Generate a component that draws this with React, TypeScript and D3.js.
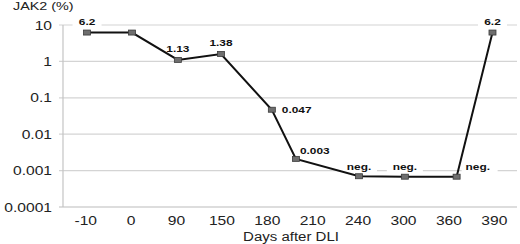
import React from "react";
import * as d3 from "d3";

const categories = ["-10", "0", "90", "150", "180", "210", "240", "300", "360", "390"];
// position of each measurement along the category axis (category index units)
const pointPos = [0.03, 1.02, 2.03, 2.98, 4.1, 4.63, 6.02, 7.03, 8.17, 8.96];
const values = [6.2, 6.2, 1.1, 1.6, 0.047, 0.0021, 0.0007, 0.00068, 0.00068, 6.2];
const pointLabels = ["6.2", "", "1.13", "1.38", "0.047", "0.003", "neg.", "neg.", "neg.", "6.2"];
const labelPlacement = ["top", "none", "top", "top", "right", "topright", "top", "top", "topright", "top"];
const yTicks = [10, 1, 0.1, 0.01, 0.001, 0.0001];
const yTickLabels = ["10", "1", "0.1", "0.01", "0.001", "0.0001"];

const W = 520, H = 244;
const left = 63, right = 517, top = 25, bottom = 207;
const SX = 1.25;
const FONT = "'Liberation Sans', Arial, sans-serif";

function Txt({ x, y, anchor = "start", size = 12, weight = "normal", children, fill = "#222" }: any) {
  return (
    <text transform={`translate(${x},${y}) scale(${SX},1)`} textAnchor={anchor} fontSize={size}
      fontWeight={weight} fontFamily={FONT} fill={fill}>{children}</text>
  );
}

export default function App() {
  const x = d3.scaleLinear().domain([-0.5, categories.length - 0.5]).range([left, right]);
  const y = d3.scaleLog().domain([0.0001, 10]).range([bottom, top]);
  const line = d3.line<number>().x((_, i) => x(pointPos[i])).y((v) => y(v));

  return (
    <svg width={W} height={H} style={{ position: "absolute", left: 0, top: 0, background: "#fff" }}>
      {yTicks.map((t, i) => (
        <g key={i}>
          <line x1={left - 4} x2={right} y1={y(t)} y2={y(t)} stroke={i === yTicks.length - 1 ? "#bbb" : "#d4d4d4"} strokeWidth={1.2} />
          <Txt x={52} y={y(t) + 4.5} anchor="end" size={12.5}>{yTickLabels[i]}</Txt>
        </g>
      ))}
      <line x1={left} x2={left} y1={top} y2={bottom} stroke="#c4c4c4" strokeWidth={1.2} />
      {categories.map((c, i) => (
        <Txt key={i} x={x(i)} y={224.5} anchor="middle" size={12.5}>{c}</Txt>
      ))}
      <Txt x={13} y={10} size={11.5}>JAK2 (%)</Txt>
      <Txt x={291} y={241} anchor="middle" size={12}>Days after DLI</Txt>

      {pointLabels.map((l, i) => {
        if (!l || labelPlacement[i] === "none") return null;
        const px = x(pointPos[i]), py = y(values[i]);
        const w = l.length * 5.6 * SX + 8;
        let cx = px, cy = py - 11, anchor = "middle";
        if (labelPlacement[i] === "right") { cx = px + 10; cy = py; anchor = "start"; }
        if (labelPlacement[i] === "topright") { cx = px + (l === "neg." ? 9 : 4); cy = py - (l === "neg." ? 10 : 8); anchor = "start"; }
        if (labelPlacement[i] === "top" && l === "neg.") { cy = py - 10; }
        const bx = anchor === "middle" ? cx - w / 2 : cx - 4;
        return (
          <g key={i}>
            <rect x={bx} y={cy - 6} width={w} height={12} fill="#fff" />
            <Txt x={cx} y={cy + 3.3} anchor={anchor} size={9.5} weight="bold" fill="#111">{l}</Txt>
          </g>
        );
      })}

      <path d={line(values) || ""} fill="none" stroke="#111" strokeWidth={2} />
      {values.map((v, i) => (
        <rect key={i} x={x(pointPos[i]) - 3.5} y={y(v) - 2.5} width={7} height={5} fill="#6e6e6e" stroke="#3a3a3a" strokeWidth={0.8} />
      ))}
    </svg>
  );
}
